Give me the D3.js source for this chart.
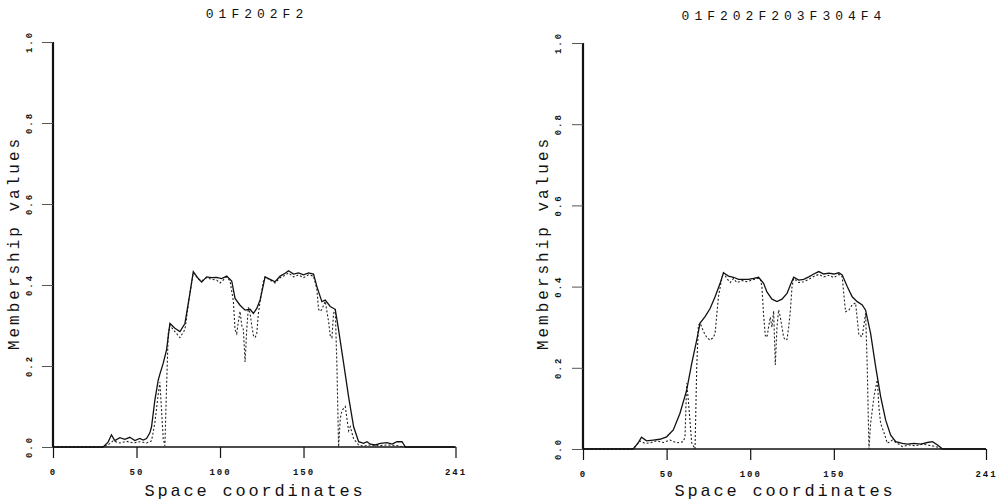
<!DOCTYPE html>
<html><head><meta charset="utf-8">
<script src="https://cdn.jsdelivr.net/npm/d3@7"></script>
<style>
html,body{margin:0;padding:0;background:#fff;}
svg text{font-family:"Liberation Mono","DejaVu Sans Mono",monospace;fill:#111;}
</style></head>
<body><div id="chart"></div>
<script>
// ---------- data ----------
const panelTitles = ["01F202F2", "01F202F203F304F4"];
const xTickValues = [0, 50, 100, 150, 241];
const yTickValues = [0, 0.2, 0.4, 0.6, 0.8, 1.0];
const xLabel = "Space coordinates";
const yLabel = "Membership values";

// left panel, solid curve [space coordinate, membership]
const leftSolid = [[0,0],[30,0],[33,0.012],[35,0.03],[37,0.016],[40,0.023],[43,0.019],[46,0.024],[49,0.016],[52,0.021],[54,0.017],[56,0.021],[58,0.035],[59,0.05],[61,0.116],[63,0.165],[64,0.18],[66,0.207],[68,0.24],[70,0.305],[73,0.293],[76,0.285],[79,0.305],[82,0.38],[84,0.433],[87,0.416],[89,0.407],[92,0.42],[95,0.418],[98,0.419],[101,0.416],[104,0.422],[107,0.41],[109,0.367],[112,0.35],[115,0.338],[118,0.34],[120,0.33],[122,0.342],[124,0.363],[127,0.42],[130,0.414],[133,0.408],[136,0.422],[139,0.429],[141,0.435],[144,0.427],[147,0.43],[150,0.425],[153,0.43],[156,0.427],[158,0.396],[161,0.359],[163,0.363],[166,0.347],[169,0.34],[171,0.289],[174,0.207],[177,0.124],[180,0.05],[183,0.013],[186,0.009],[188,0.013],[190,0.007],[193,0.005],[196,0.009],[200,0.011],[203,0.007],[206,0.013],[209,0.013],[211,0],[241,0]];
// left panel, dotted curve
const leftDotted = [[0,0],[30,0],[33,0.005],[36,0.015],[40,0.01],[44,0.014],[48,0.01],[52,0.013],[56,0.01],[59,0.015],[61,0.06],[63,0.13],[64,0.16],[65,0.09],[66,0.02],[67,0.003],[68,0.15],[69,0.28],[70,0.3],[73,0.285],[76,0.27],[79,0.29],[82,0.38],[84,0.43],[87,0.415],[89,0.41],[92,0.418],[95,0.414],[98,0.412],[100,0.405],[104,0.42],[106,0.41],[108,0.36],[109,0.29],[110,0.28],[111,0.31],[112,0.335],[113,0.3],[114,0.29],[115,0.21],[116,0.29],[117,0.345],[118,0.33],[119,0.3],[120,0.275],[121,0.27],[122,0.28],[123,0.33],[124,0.36],[126,0.41],[127,0.42],[130,0.412],[133,0.405],[136,0.418],[139,0.424],[141,0.43],[144,0.42],[147,0.425],[150,0.418],[153,0.425],[156,0.422],[158,0.39],[159,0.34],[160,0.335],[161,0.34],[163,0.36],[165,0.31],[166,0.275],[167,0.27],[168,0.33],[169,0.34],[170,0.2],[171,0],[172,0.07],[173,0.09],[175,0.1],[176,0.07],[177,0.04],[178,0.05],[180,0.02],[183,0.005],[186,0.002],[190,0.005],[195,0.003],[200,0.005],[205,0.004],[211,0],[241,0]];

// right panel, solid curve
const rightSolid = [[0,0],[30,0],[33,0.015],[35,0.029],[38,0.02],[42,0.022],[46,0.024],[50,0.03],[54,0.047],[58,0.088],[62,0.145],[65,0.21],[68,0.268],[70,0.31],[73,0.326],[76,0.346],[79,0.375],[82,0.408],[84,0.434],[87,0.426],[90,0.423],[93,0.418],[96,0.418],[99,0.418],[102,0.42],[105,0.423],[108,0.408],[110,0.387],[113,0.369],[116,0.363],[119,0.369],[122,0.383],[124,0.404],[126,0.423],[129,0.416],[132,0.418],[135,0.424],[138,0.431],[141,0.437],[144,0.431],[147,0.433],[150,0.431],[153,0.434],[155,0.429],[158,0.4],[161,0.375],[164,0.363],[167,0.355],[169,0.342],[172,0.285],[175,0.203],[178,0.129],[181,0.071],[184,0.034],[187,0.018],[191,0.014],[194,0.012],[198,0.014],[202,0.012],[206,0.016],[209,0.018],[212,0.01],[215,0],[241,0]];
// right panel, dotted curve
const rightDotted = [[0,0],[30,0],[34,0.02],[37,0.014],[40,0.015],[44,0.02],[48,0.016],[52,0.022],[56,0.015],[60,0.018],[61,0.03],[62,0.162],[63,0.12],[65,0.015],[67,0],[68,0.2],[69,0.305],[70,0.31],[72,0.29],[74,0.275],[76,0.268],[78,0.275],[79,0.285],[80,0.33],[81,0.375],[83,0.42],[84,0.434],[86,0.42],[88,0.41],[90,0.42],[92,0.41],[95,0.415],[98,0.412],[101,0.416],[104,0.42],[106,0.42],[107,0.4],[108,0.33],[109,0.28],[110,0.275],[111,0.3],[112,0.325],[113,0.3],[114,0.34],[115,0.207],[116,0.3],[117,0.343],[118,0.325],[119,0.3],[120,0.275],[121,0.268],[122,0.27],[123,0.3],[124,0.34],[125,0.4],[126,0.42],[129,0.41],[132,0.412],[135,0.418],[138,0.425],[141,0.43],[144,0.424],[147,0.428],[150,0.422],[153,0.43],[155,0.425],[156,0.38],[157,0.338],[159,0.342],[161,0.355],[163,0.36],[165,0.28],[167,0.277],[169,0.334],[170,0.2],[171,0],[172,0.063],[174,0.129],[176,0.17],[177,0.1],[178,0.063],[180,0.04],[182,0.014],[185,0.022],[188,0.014],[191,0.006],[195,0.01],[199,0.008],[203,0.012],[207,0.009],[211,0.006],[215,0],[241,0]];

// ---------- drawing ----------
const W = 999, H = 502;
const svg = d3.select("#chart").append("svg").attr("width", W).attr("height", H);

const panels = [
  {title: panelTitles[0], solid: leftSolid, dotted: leftDotted, x0: 53, x1: 455.5, yTop: 42, yBot: 447, titleX: 257, titleY: 18, yLabX: 19, yTickX: 32},
  {title: panelTitles[1], solid: rightSolid, dotted: rightDotted, x0: 583, x1: 986, yTop: 43, yBot: 449, titleX: 784, titleY: 20, yLabX: 548, yTickX: 561}
];

panels.forEach(p => {
  const x = d3.scaleLinear().domain([0, 241]).range([p.x0, p.x1]);
  const y = d3.scaleLinear().domain([0, 1]).range([p.yBot, p.yTop]);
  const g = svg.append("g");

  // title
  g.append("text").attr("x", p.titleX).attr("y", p.titleY).attr("text-anchor", "middle")
    .style("font-size", "13px").style("letter-spacing", "5px").text(p.title);

  // x axis
  const xa = d3.axisBottom(x).tickValues(xTickValues).tickSize(11).tickPadding(11).tickFormat(d3.format("d"));
  const xg = g.append("g").attr("transform", `translate(0,${p.yBot})`).call(xa);
  xg.select(".domain").attr("d", `M${p.x0},0H${p.x1}`).attr("stroke", "#111").attr("stroke-width", 1.6);
  xg.selectAll(".tick line").attr("stroke", "#111").attr("stroke-width", 1.2);
  xg.selectAll(".tick text").style("font-size", "9px").style("letter-spacing", "2px").attr("fill", "#111").style("font-weight", "bold");

  // y axis
  const ya = d3.axisLeft(y).tickValues(yTickValues).tickSize(11).tickFormat(d3.format(".1f"));
  const yg = g.append("g").attr("transform", `translate(${p.x0},0)`).call(ya);
  yg.select(".domain").attr("d", `M0,${p.yBot}V${p.yTop}`).attr("stroke", "#111").attr("stroke-width", 2.2);
  yg.selectAll(".tick line").attr("stroke", "#555").attr("stroke-width", 1);
  yg.selectAll(".tick text").remove();
  yTickValues.forEach(v => {
    g.append("text").attr("transform", `translate(${p.yTickX},${y(v)}) rotate(-90)`)
      .attr("text-anchor", "middle").style("font-size", "9px").style("letter-spacing", "2px")
      .style("font-weight", "bold").text(d3.format(".1f")(v));
  });

  // axis labels
  g.append("text").attr("x", (p.x0 + 202)).attr("y", 496).attr("text-anchor", "middle")
    .style("font-size", "17px").style("letter-spacing", "2.8px").text(xLabel);
  g.append("text").attr("transform", `translate(${p.yLabX},${243}) rotate(-90)`).attr("text-anchor", "middle")
    .style("font-size", "16px").style("letter-spacing", "3px").text(yLabel);

  // curves
  const line = d3.line().x(d => x(d[0])).y(d => y(d[1]));
  g.append("path").datum(p.dotted).attr("d", line).attr("fill", "none")
    .attr("stroke", "#222").attr("stroke-width", 1.1).attr("stroke-dasharray", "2,2");
  g.append("path").datum(p.solid).attr("d", line).attr("fill", "none")
    .attr("stroke", "#111").attr("stroke-width", 1.3);
});
</script></body></html>
